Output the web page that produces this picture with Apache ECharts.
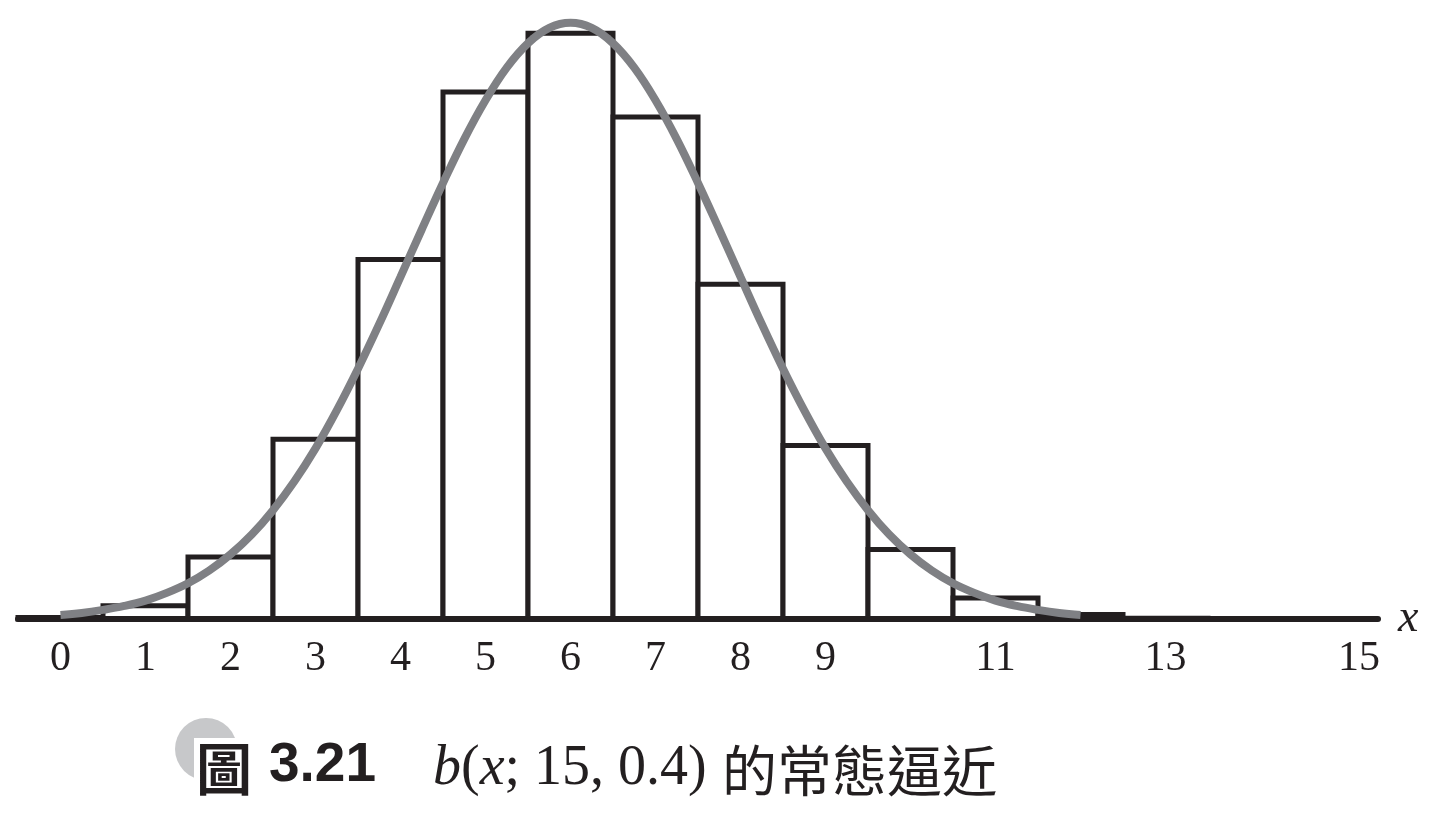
<!DOCTYPE html>
<html>
<head>
<meta charset="utf-8">
<script src="https://cdn.jsdelivr.net/npm/echarts@6/dist/echarts.min.js"></script>
<style>
html,body{margin:0;padding:0;background:#fff;}
#chart{width:1438px;height:817px;}
</style>
</head>
<body>
<div id="chart"></div>
<script>
// Binomial b(x;15,0.4) histogram values
const xValues = [0, 1, 2, 3, 4, 5, 6, 7, 8, 9, 10, 11, 12, 13, 14, 15];
const probabilities = [0.0005, 0.0047, 0.0219, 0.0634, 0.1268, 0.1859, 0.2066, 0.1771, 0.1181, 0.0612, 0.0245, 0.0074, 0.0016, 0.0003, 0.0000, 0.0000];

const curveX = [0, 0.25, 0.5, 0.75, 1, 1.25, 1.5, 1.75, 2, 2.25, 2.5, 2.75, 3, 3.25, 3.5, 3.75, 4, 4.25, 4.5, 4.75, 5, 5.25, 5.5, 5.75, 6,
                6.25, 6.5, 6.75, 7, 7.25, 7.5, 7.75, 8, 8.25, 8.5, 8.75, 9, 9.25, 9.5, 9.75, 10, 10.25, 10.5, 10.75, 11, 11.25, 11.5, 11.75, 12];
const curveY = [0.0014, 0.0021, 0.0032, 0.0046, 0.0065, 0.0092, 0.0126, 0.0171, 0.0228, 0.0298, 0.0384, 0.0485, 0.0602, 0.0736, 0.0883, 0.1041, 0.1207, 0.1374, 0.1538, 0.1693, 0.1830, 0.1945, 0.2031, 0.2085, 0.2103,
                0.2085, 0.2031, 0.1945, 0.1830, 0.1693, 0.1538, 0.1374, 0.1207, 0.1041, 0.0883, 0.0736, 0.0602, 0.0485, 0.0384, 0.0298, 0.0228, 0.0171, 0.0126, 0.0092, 0.0065, 0.0046, 0.0032, 0.0021, 0.0014];

// Tick labels shown on the x axis
const tickLabels = [0, 1, 2, 3, 4, 5, 6, 7, 8, 9, 11, 13, 15];

const axisName = 'x';
const figLabel = '圖';
const figNumber = '3.21';
const captionMath = ['b', '(', 'x', '; 15, 0.4)'];
const captionText = '的常態逼近';

const ink = '#231f20';
const chart = echarts.init(document.getElementById('chart'), null, {renderer: 'canvas'});

const barData = xValues.map((x, i) => [x, probabilities[i]]);
const curveData = curveX.map((x, i) => [x, curveY[i]]);

chart.setOption({
  animation: false,
  backgroundColor: '#ffffff',
  grid: {left: 18, right: 60, top: 1, bottom: 198, containLabel: false},
  xAxis: {
    type: 'value',
    min: -0.5,
    max: 15.5,
    z: 5,
    splitLine: {show: false},
    axisTick: {show: false},
    axisLine: {show: true, lineStyle: {color: ink, width: 6, cap: 'round'}},
    axisLabel: {
      customValues: tickLabels,
      margin: 19,
      color: ink,
      fontFamily: 'Liberation Serif',
      fontSize: 42,
      formatter: function (v) { return v === 15 ? '{s|15}' : String(v); },
      rich: {s: {padding: [0, 0, 0, 47], fontFamily: 'Liberation Serif', fontSize: 42, color: ink}}
    },
    name: axisName,
    nameLocation: 'end',
    nameGap: 20,
    nameTextStyle: {fontFamily: 'Liberation Serif', fontStyle: 'italic', fontSize: 46, color: ink, verticalAlign: 'middle'}
  },
  yAxis: {
    type: 'value',
    min: 0,
    max: 0.218,
    show: false,
    splitLine: {show: false}
  },
  series: [
    {
      type: 'custom',
      z: 2,
      data: barData,
      renderItem: function (params, api) {
        const x = api.value(0), y = api.value(1);
        const p0 = api.coord([x - 0.5, y]);
        const p1 = api.coord([x + 0.5, 0]);
        return {
          type: 'rect',
          shape: {x: p0[0], y: p0[1], width: p1[0] - p0[0], height: p1[1] - p0[1]},
          style: {fill: '#ffffff', stroke: ink, lineWidth: 5}
        };
      }
    },
    {
      type: 'line',
      z: 10,
      data: curveData,
      smooth: 0.4,
      showSymbol: false,
      symbol: 'none',
      clip: false,
      lineStyle: {color: '#7f8084', width: 8, cap: 'butt'}
    }
  ],
  graphic: [
    {type: 'circle', shape: {cx: 206, cy: 749, r: 31}, style: {fill: '#c7c8ca'}, z: 1},
    {type: 'rect', shape: {x: 194, y: 738, width: 58, height: 62}, style: {fill: '#ffffff'}, z: 2},
    {type: 'text', x: 196, y: 769, z: 3,
      style: {text: figLabel, fill: ink, font: 'bold 56px "Noto Sans CJK TC"', textAlign: 'left', textVerticalAlign: 'middle'}},
    {type: 'text', x: 269, y: 766, z: 3,
      style: {text: figNumber, fill: ink, font: 'bold 55px "Liberation Sans"', textAlign: 'left', textVerticalAlign: 'middle'}},
    {type: 'text', x: 433, y: 769, z: 3,
      style: {
        text: '{i|' + captionMath[0] + '}{n|' + captionMath[1] + '}{i|' + captionMath[2] + '}{n|' + captionMath[3] + '}',
        textAlign: 'left', textVerticalAlign: 'middle',
        rich: {
          i: {fontFamily: 'Liberation Serif', fontStyle: 'italic', fontSize: 56, fill: ink},
          n: {fontFamily: 'Liberation Serif', fontSize: 56, fill: ink}
        }
      }},
    {type: 'text', x: 722, y: 770, z: 3,
      style: {text: captionText, fill: ink, font: '55px "Noto Sans CJK TC"', textAlign: 'left', textVerticalAlign: 'middle'}}
  ]
});
</script>
</body>
</html>
